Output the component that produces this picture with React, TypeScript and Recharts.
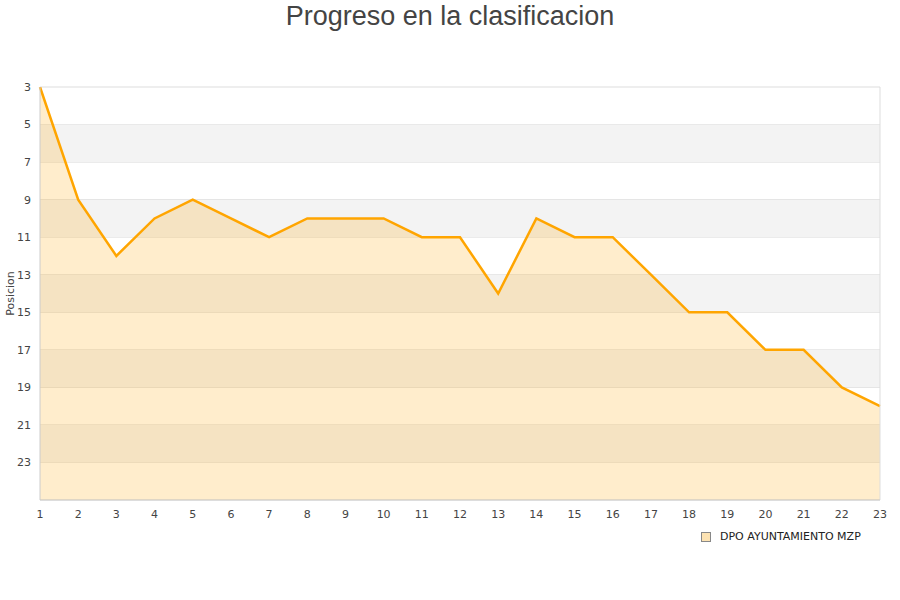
import React from 'react';
import {
  AreaChart,
  Area,
  XAxis,
  YAxis,
  CartesianGrid,
  ReferenceArea,
  ReferenceLine,
  Legend,
} from 'recharts';

const JORNADAS = [1, 2, 3, 4, 5, 6, 7, 8, 9, 10, 11, 12, 13, 14, 15, 16, 17, 18, 19, 20, 21, 22, 23];
const POSICION = [3, 9, 12, 10, 9, 10, 11, 10, 10, 10, 11, 11, 14, 10, 11, 11, 13, 15, 15, 17, 17, 19, 20];
const Y_TICKS = [3, 5, 7, 9, 11, 13, 15, 17, 19, 21, 23];
const SERIES_NAME = 'DPO AYUNTAMIENTO MZP';

const data = JORNADAS.map((j, i) => ({ jornada: j, pos: POSICION[i] }));

// gray stripes every other band, starting at 5-7
const BANDS = Y_TICKS.filter((_, i) => i % 2 === 1).map((t) => [t, t + 2]);

const FONT = '"DejaVu Sans", Verdana, sans-serif';
const ORANGE = '#ffa500';

function LegendBox() {
  return (
    <div style={{ display: 'flex', alignItems: 'center', fontFamily: FONT, fontSize: 11, color: '#222' }}>
      <span
        style={{
          display: 'inline-block',
          width: 8,
          height: 8,
          background: '#fde3b3',
          border: '1px solid #888',
          marginRight: 9,
        }}
      />
      {SERIES_NAME}
    </div>
  );
}

export default function App() {
  return (
    <div style={{ position: 'absolute', left: 0, top: 0, width: 900, height: 600, background: '#fff' }}>
      <div
        style={{
          position: 'absolute',
          top: 0,
          width: 900,
          textAlign: 'center',
          fontFamily: '"Liberation Sans", Arial, sans-serif',
          fontSize: 27,
          color: '#444',
          lineHeight: '32px',
        }}
      >
        Progreso en la clasificacion
      </div>
      <AreaChart width={900} height={600} data={data} margin={{ top: 87, right: 20, left: 0, bottom: 70 }}>
        {BANDS.map(([a, b]) => (
          <ReferenceArea key={a} y1={a} y2={b} fill="#f3f3f3" fillOpacity={1} stroke="none" ifOverflow="hidden" />
        ))}
        <CartesianGrid vertical={false} stroke="#dddddd" />
        <XAxis
          dataKey="jornada"
          type="number"
          domain={[1, 23]}
          ticks={JORNADAS}
          interval={0}
          stroke="#cccccc"
          tickLine={false}
          tickSize={0}
          tickMargin={10}
          height={17}
          tick={{ fontFamily: FONT, fontSize: 11, fill: '#444' }}
        />
        <YAxis
          type="number"
          domain={[3, 25]}
          reversed
          ticks={Y_TICKS}
          interval={0}
          allowDataOverflow
          width={40}
          stroke="#cccccc"
          tickLine={false}
          tickSize={0}
          tickMargin={9}
          tick={{ fontFamily: FONT, fontSize: 11, fill: '#444' }}
          label={{
            value: 'Posicion',
            angle: -90,
            position: 'insideLeft',
            offset: 10,
            style: { fontFamily: FONT, fontSize: 11, fill: '#444', textAnchor: 'middle' },
          }}
        />
        <ReferenceLine x={23} stroke="#dddddd" />
        <Area
          type="linear"
          dataKey="pos"
          name={SERIES_NAME}
          baseValue={25}
          stroke={ORANGE}
          strokeWidth={2.5}
          fill={ORANGE}
          fillOpacity={0.2}
          dot={false}
          activeDot={false}
          isAnimationActive={false}
        />
        <Legend
          content={() => <LegendBox />}
          wrapperStyle={{ position: 'absolute', left: 701, top: 530, width: 'auto' }}
        />
      </AreaChart>
    </div>
  );
}
